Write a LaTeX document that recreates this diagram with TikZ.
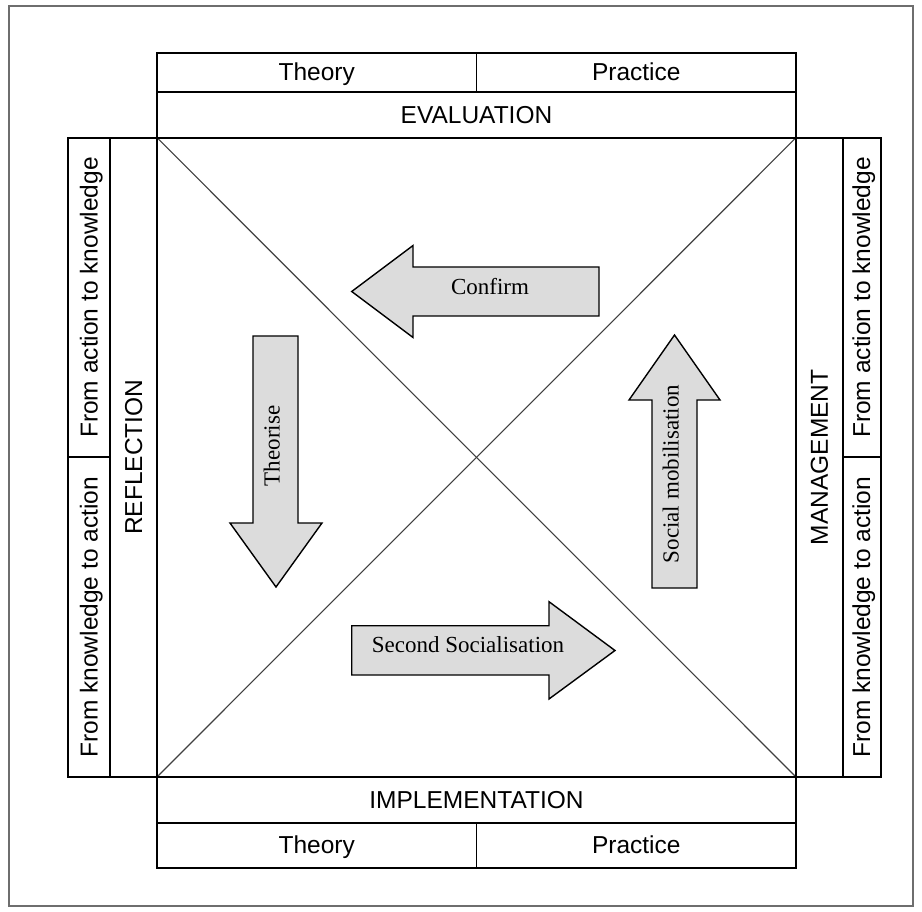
\documentclass[tikz,border=0pt]{standalone}
\usepackage{fontspec}
\setmainfont{Liberation Serif}
\setsansfont{Liberation Sans}
\definecolor{arrowgray}{RGB}{220,220,220}
\definecolor{diaggray}{RGB}{64,64,64}
\definecolor{framegray}{RGB}{110,110,110}
\begin{document}
\begin{tikzpicture}[x=1pt,y=-1pt,
  cell/.style={draw, line width=1.9pt, inner sep=0pt, text height=21pt, text depth=4pt,
    font=\sffamily\fontsize{24.5}{28}\selectfont},
  arrowshape/.style={draw, line width=1.4pt, fill=arrowgray, line join=miter},
  alabel/.style={font=\rmfamily\fontsize{23}{27}\selectfont, inner sep=0pt, text height=15pt, text depth=5pt},
  diag/.style={line width=1.1pt, draw=diaggray}]
\useasboundingbox (0,0) rectangle (922,912);
\draw[framegray, line width=1.2pt] (9,6) rectangle (913,906);

% central square and diagonals
\node[cell, minimum width=639pt, minimum height=639.3pt] (sq) at (476.5,457.35) {};
\draw[diag] (sq.north west) -- (sq.south east);
\draw[diag] (sq.south west) -- (sq.north east);

% top
\node[cell, minimum width=319.5pt, minimum height=39pt] (th1) at (316.75,72.2) {Theory};
\node[cell, minimum width=319.5pt, minimum height=39pt] (pr1) at (636.25,72.2) {Practice};
\node[cell, minimum width=639pt, minimum height=46pt] (eval) at (476.5,114.7) {EVALUATION};

% bottom
\node[cell, minimum width=639pt, minimum height=45.7pt] (impl) at (476.5,799.85) {IMPLEMENTATION};
\node[cell, minimum width=319.5pt, minimum height=45pt] (th2) at (316.75,845.2) {Theory};
\node[cell, minimum width=319.5pt, minimum height=45pt] (pr2) at (636.25,845.2) {Practice};

% left
\node[cell, rotate=90, minimum width=639.3pt, minimum height=47pt] (refl) at (133.5,457.35) {REFLECTION};
\node[cell, rotate=90, minimum width=319.65pt, minimum height=42pt] (akL) at (89,297.5) {From action to knowledge};
\node[cell, rotate=90, minimum width=319.65pt, minimum height=42pt] (kaL) at (89,617.2) {From knowledge to action};

% right
\node[cell, rotate=90, minimum width=639.3pt, minimum height=46.7pt] (mgmt) at (819.35,457.35) {MANAGEMENT};
\node[cell, rotate=90, minimum width=319.65pt, minimum height=38pt] (akR) at (861.7,297.5) {From action to knowledge};
\node[cell, rotate=90, minimum width=319.65pt, minimum height=38pt] (kaR) at (861.7,617.2) {From knowledge to action};

% arrows
\draw[arrowshape] (351.7,291.5) -- (413,245.5) -- (413,267) -- (599,267) -- (599,316) -- (413,316) -- (413,337.5) -- cycle;
\node[alabel] (confirm) at (490,290) {Confirm};

\draw[arrowshape] (253,336) -- (298,336) -- (298,523) -- (322,523) -- (276,587) -- (230,523) -- (253,523) -- cycle;
\node[alabel, rotate=90] (theorise) at (274.5,446) {Theorise};

\draw[arrowshape] (351.7,625.7) -- (549,625.7) -- (549,601.7) -- (615,650.5) -- (549,699) -- (549,675) -- (351.7,675) -- cycle;
\node[alabel] (secsoc) at (468,647) {Second Socialisation};

\draw[arrowshape] (652,588) -- (652,400) -- (629,400) -- (674.5,335) -- (720,400) -- (697,400) -- (697,588) -- cycle;
\node[alabel, rotate=90] (socmob) at (673.5,474) {Social mobilisation};
\end{tikzpicture}
\end{document}
